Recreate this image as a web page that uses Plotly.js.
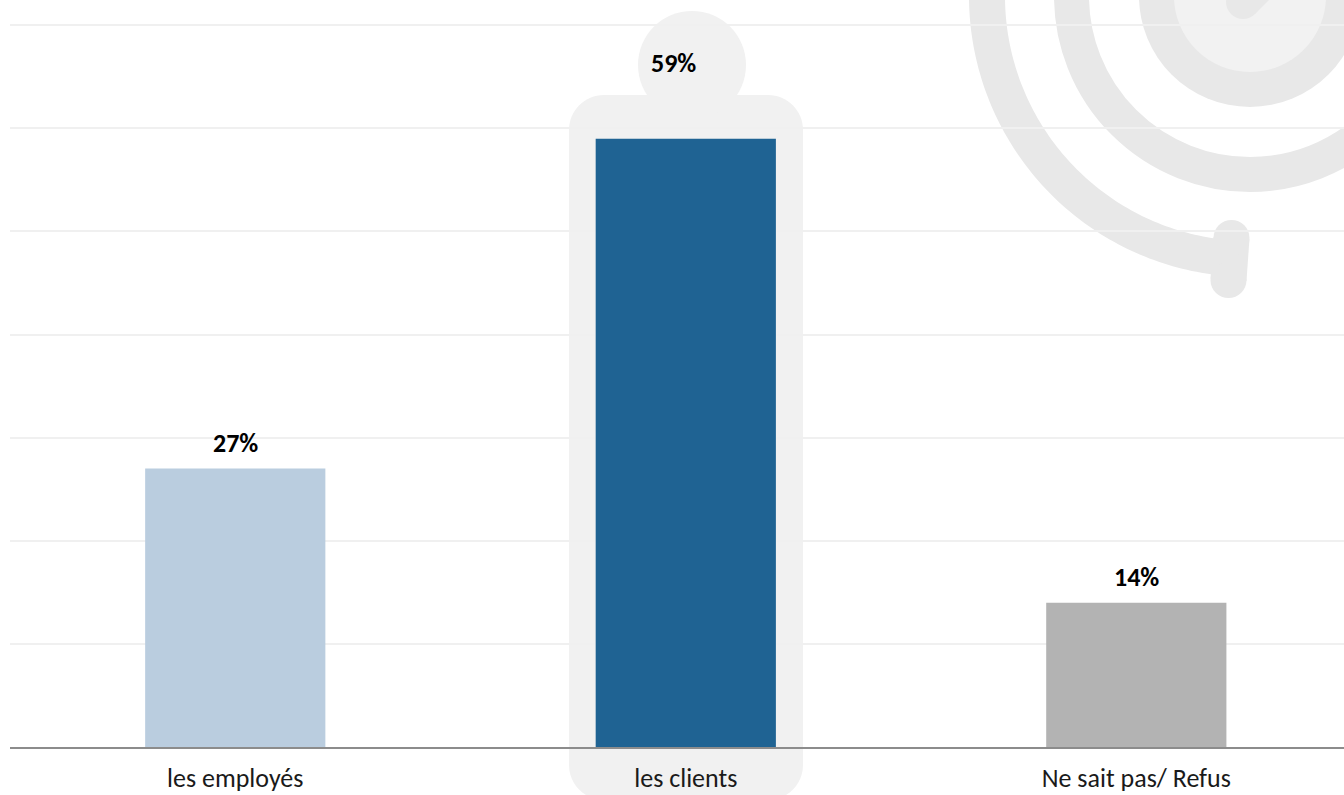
<!DOCTYPE html>
<html>
<head>
<meta charset="utf-8">
<script src="https://cdn.plot.ly/plotly-3.0.1.min.js"></script>
<style>
  html, body { margin: 0; padding: 0; background: #ffffff; }
  #chart { width: 1344px; height: 795px; }
</style>
</head>
<body>
<div id="chart"></div>
<script>
// Survey answers (share of respondents, %)
const categories = ['les employés', 'les clients', 'Ne sait pas/ Refus'];
const shares = [27, 59, 14];
const barColors = ['#BACDDF', '#1F6393', '#B3B3B3'];

// Page geometry
const W = 1344, H = 795;
const M = { l: 10, r: 0, t: 0, b: 48 };
const PW = W - M.l - M.r, PH = H - M.t - M.b;
const px = x => (x - M.l) / PW;           // pixel -> paper x
const py = y => (M.t + PH - y) / PH;      // pixel -> paper y
const P = (x, y) => `${px(x).toFixed(5)},${py(y).toFixed(5)}`;

const FONT = 'Calibri, Carlito, Lato, sans-serif';
const GREY_LIGHT = '#F1F1F1';
const GREY_ICON = '#E8E8E8';

function circle(cx, cy, r, fill, layer) {
  return {
    type: 'circle', xref: 'paper', yref: 'paper', layer: layer || 'between',
    x0: px(cx - r), x1: px(cx + r), y0: py(cy + r), y1: py(cy - r),
    fillcolor: fill, line: { width: 0 }
  };
}
function ring(cx, cy, r, width, color) {
  return {
    type: 'circle', xref: 'paper', yref: 'paper', layer: 'between',
    x0: px(cx - r), x1: px(cx + r), y0: py(cy + r), y1: py(cy - r),
    fillcolor: 'rgba(0,0,0,0)', line: { width: width, color: color }
  };
}
function stroke(x0, y0, x1, y1, width, color) {
  return [
    { type: 'line', xref: 'paper', yref: 'paper', layer: 'between',
      x0: px(x0), y0: py(y0), x1: px(x1), y1: py(y1),
      line: { width: width, color: color } },
    circle(x0, y0, width / 2, color),
    circle(x1, y1, width / 2, color)
  ];
}
function roundRect(x0, y0, x1, y1, r, fill) {
  const k = 0.5523 * r;
  const d = `M${P(x0 + r, y0)} L${P(x1 - r, y0)} ` +
    `C${P(x1 - r + k, y0)} ${P(x1, y0 + r - k)} ${P(x1, y0 + r)} ` +
    `L${P(x1, y1 - r)} C${P(x1, y1 - r + k)} ${P(x1 - r + k, y1)} ${P(x1 - r, y1)} ` +
    `L${P(x0 + r, y1)} C${P(x0 + r - k, y1)} ${P(x0, y1 - r + k)} ${P(x0, y1 - r)} ` +
    `L${P(x0, y0 + r)} C${P(x0, y0 + r - k)} ${P(x0 + r - k, y0)} ${P(x0 + r, y0)} Z`;
  return { type: 'path', xref: 'paper', yref: 'paper', layer: 'between',
           path: d, fillcolor: fill, line: { width: 0 } };
}
function arc(cx, cy, r, a0, a1, width, color) {
  let d = '';
  for (let a = a0; a <= a1 + 1e-9; a += 1) {
    const t = a * Math.PI / 180;
    d += (d ? ' L' : 'M') + P(cx + r * Math.cos(t), cy + r * Math.sin(t));
  }
  return { type: 'path', xref: 'paper', yref: 'paper', layer: 'between',
           path: d, fillcolor: 'rgba(0,0,0,0)', line: { width: width, color: color } };
}

// Highlight capsule behind the leading answer, with a bubble for its label
const shapes = [
  roundRect(569, 95, 803, 800, 35, GREY_LIGHT),
  circle(692, 65, 54, GREY_LIGHT)
];

// Decorative target / spiral emblem in the top-right corner
const IC = { x: 1250, y: -4 };
shapes.push(circle(IC.x, IC.y, 111, GREY_ICON));
shapes.push(circle(IC.x, IC.y, 76, '#F2F2F2'));
shapes.push(ring(IC.x, IC.y, 178.5, 35, GREY_ICON));
shapes.push(arc(IC.x, IC.y, 263, 94, 215, 36, GREY_ICON));
shapes.push(...stroke(1231.5, 238, 1228.5, 280, 36, GREY_ICON));
shapes.push(...stroke(1243, 2, 1290, -45, 34, GREY_ICON));

// Value labels above bars; the leading answer sits in its bubble
const peak = shares.indexOf(Math.max(...shares));
const annotations = shares.map((v, i) => ({
  x: categories[i], y: v, xref: 'x', yref: 'y',
  text: `<b>${v}%</b>`, showarrow: false,
  xanchor: 'center', yanchor: 'middle',
  yshift: i === peak ? 76 : 26,
  xshift: i === peak ? -12 : 0,
  font: { family: FONT, size: 26, color: '#000000' }
}));

const trace = {
  type: 'bar',
  x: categories,
  y: shares,
  width: 0.4,
  marker: { color: barColors, line: { width: 0 } },
  hoverinfo: 'none'
};

const layout = {
  width: W, height: H,
  margin: { l: M.l, r: M.r, t: M.t, b: M.b, pad: 0 },
  paper_bgcolor: '#FFFFFF',
  plot_bgcolor: 'rgba(0,0,0,0)',
  showlegend: false,
  bargap: 0.6,
  xaxis: {
    type: 'category',
    range: [-0.5, 2.461],
    showline: true, linecolor: '#8C8C8C', linewidth: 2,
    showgrid: false, zeroline: false, ticks: '',
    ticklabelstandoff: 7,
    tickfont: { family: FONT, size: 26, color: '#1A1A1A' },
    fixedrange: true
  },
  yaxis: {
    range: [0, 72.45],
    dtick: 10, tick0: 0,
    showgrid: true, gridcolor: '#F0F0F0', gridwidth: 2,
    zeroline: false, showline: false, showticklabels: false, ticks: '',
    fixedrange: true
  },
  shapes: shapes,
  annotations: annotations
};

Plotly.newPlot('chart', [trace], layout, { displayModeBar: false, staticPlot: true });
</script>
</body>
</html>
